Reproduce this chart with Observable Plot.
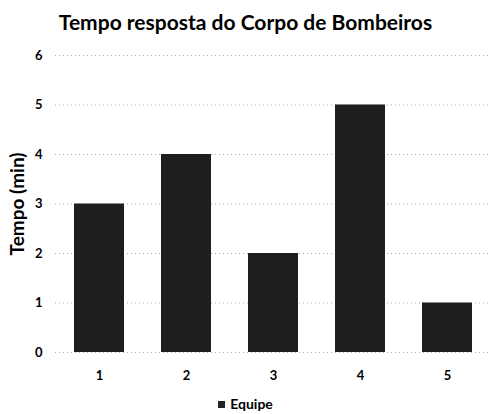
<!DOCTYPE html>
<html>
<head>
<meta charset="utf-8">
<script src="https://cdn.jsdelivr.net/npm/d3@7"></script>
<script src="https://cdn.jsdelivr.net/npm/@observablehq/plot@0.6"></script>
<style>
  body { margin: 0; background: #fff; font-family: Lato, "Open Sans", sans-serif; }
  #wrap { width: 491px; height: 414px; position: relative; }
  #title { height: 42px; line-height: 44px; text-align: center; font-weight: bold; font-size: 21px; color: #000; }
  #legend { position: absolute; top: 395px; left: 0; width: 491px; text-align: center; font-size: 14px; font-weight: bold; color: #000; }
  #legend .sw { display: inline-block; width: 7px; height: 7px; background: #222; margin-right: 5px; vertical-align: 1px; }
</style>
</head>
<body>
<div id="wrap">
  <div id="title">Tempo resposta do Corpo de Bombeiros</div>
  <div id="chart"></div>
  <div id="legend"><span class="sw"></span>Equipe</div>
</div>
<script>
const teams = ["1", "2", "3", "4", "5"];
const tempos = [3, 4, 2, 5, 1];
const yTicks = [0, 1, 2, 3, 4, 5, 6];
const seriesName = "Equipe";
const yTitle = "Tempo (min)";

const data = teams.map((t, i) => ({team: t, tempo: tempos[i]}));

const chart = Plot.plot({
  width: 491,
  height: 350,
  marginTop: 13,
  marginBottom: 40,
  marginLeft: 55,
  marginRight: 0,
  style: {fontFamily: "Lato, 'Open Sans', sans-serif", fontSize: "13px", fontWeight: "bold", color: "#000"},
  x: {domain: teams, paddingInner: 0.43, paddingOuter: 0.215, label: null},
  y: {domain: [0, 6], label: null},
  marks: [
    Plot.gridY(yTicks, {stroke: "#888", strokeOpacity: 0.7, strokeDasharray: "1,3"}),
    Plot.barY(data, {x: "team", y: "tempo", fill: "#1e1e1e"}),
    Plot.axisY(yTicks, {tickSize: 0, tickPadding: 13, tickFormat: "d", label: yTitle, labelArrow: "none", labelAnchor: "center", labelOffset: 45, fontSize: 13, fontWeight: "bold"}),
    Plot.axisX({tickSize: 0, tickPadding: 18, label: null, fontSize: 13})
  ]
});
document.getElementById("chart").appendChild(chart);
const yl = chart.querySelector("g[aria-label='y-axis label']");
if (yl) { yl.setAttribute("font-size", "19"); yl.style.fontSize = "19px"; yl.querySelectorAll("text").forEach(t => { t.textContent = yTitle; }); }
</script>
</body>
</html>
